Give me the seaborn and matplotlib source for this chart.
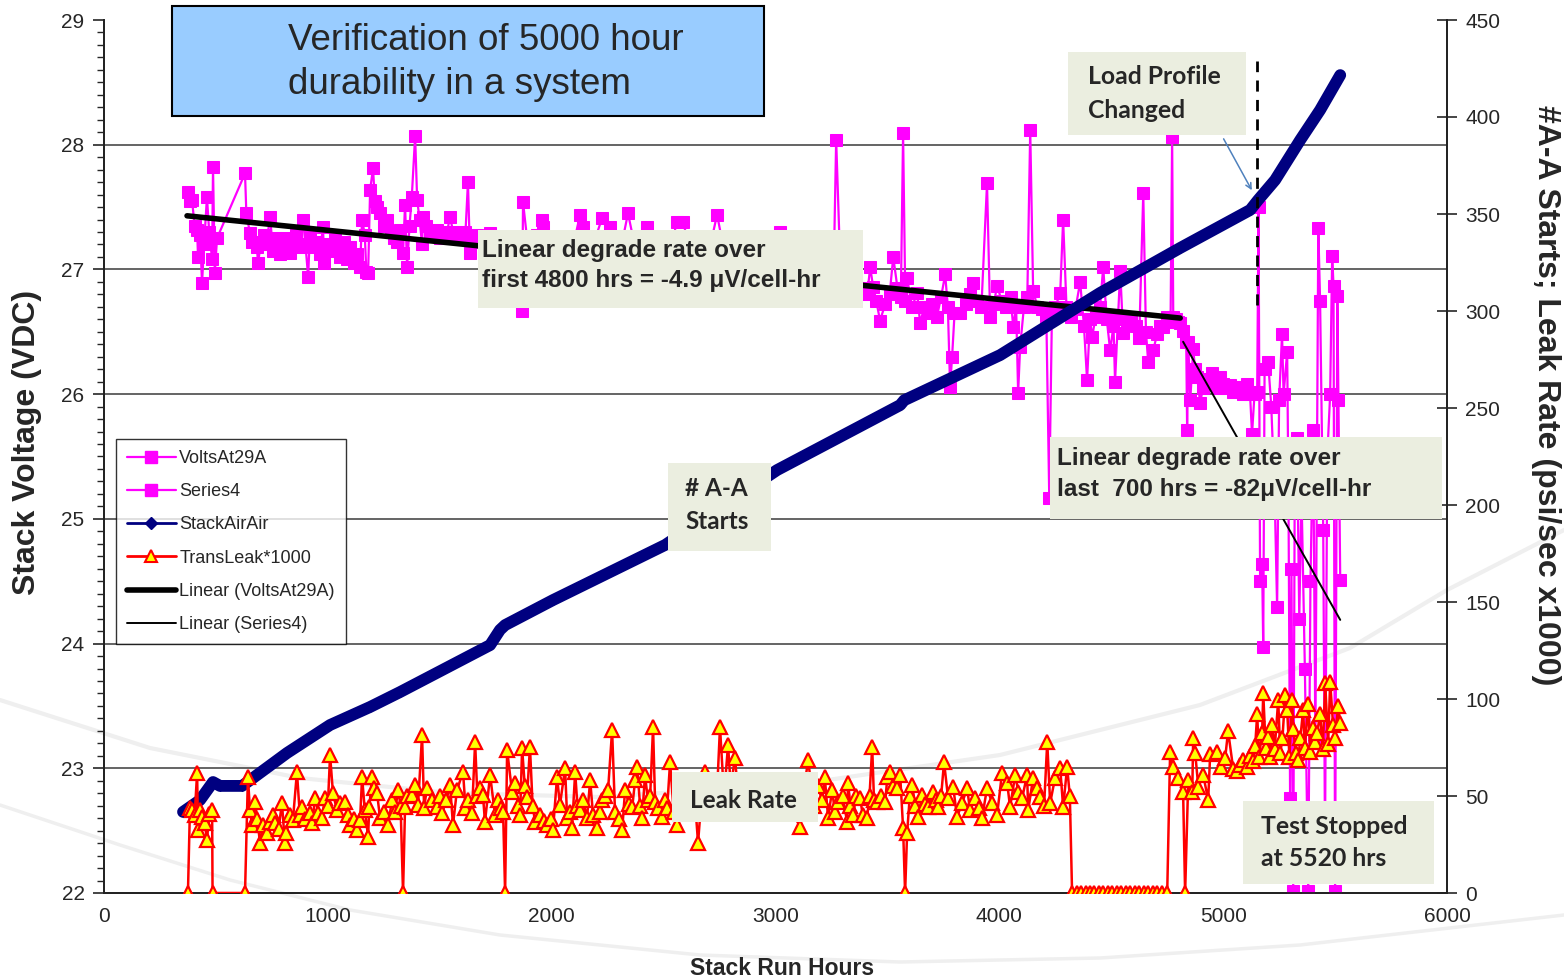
import matplotlib
matplotlib.use("Agg")
import matplotlib.pyplot as plt
from matplotlib.lines import Line2D
from matplotlib.patches import Rectangle
import numpy as np
import seaborn as sns

# ---------------- data ----------------
volts_hours = [375, 384, 393, 405, 416, 420, 429, 438, 447, 460, 470, 483, 487, 495, 505,
               630, 636, 652, 660, 683, 688, 700, 715, 728, 742, 755, 770, 785, 800, 815,
               831, 845, 860, 875, 889, 900, 912, 920, 935, 950, 964, 978, 985, 1000, 1015,
               1030, 1041, 1055, 1070, 1086, 1100, 1115, 1130, 1144, 1153, 1165, 1172, 1180,
               1189, 1202, 1210, 1220, 1235, 1250, 1265, 1280, 1295, 1310, 1323, 1336, 1345,
               1354, 1365, 1375, 1390, 1399, 1410, 1421, 1425, 1440, 1455, 1470, 1488, 1500,
               1515, 1530, 1546, 1560, 1575, 1590, 1604, 1615, 1626, 1635, 1650, 1665, 1680,
               1700, 1725, 1740, 1760, 1790, 1810, 1840, 1868, 1872, 1890, 1910, 1935, 1957,
               1962, 1985, 2010, 2040, 2070, 2100, 2127, 2140, 2165, 2195, 2225, 2261, 2290,
               2315, 2341, 2370, 2400, 2426, 2460, 2490, 2520, 2560, 2587, 2620, 2660, 2700,
               2739, 2770, 2800, 2840, 2880, 2920, 2960, 3000, 3021, 3060, 3100, 3140, 3180,
               3220, 3260, 3271, 3290, 3320, 3360, 3390, 3410, 3423, 3436, 3450, 3467, 3490,
               3510, 3526, 3545, 3560, 3570, 3580, 3588, 3610, 3633, 3646, 3665, 3680, 3700,
               3721, 3740, 3758, 3770, 3780, 3789, 3800, 3825, 3850, 3870, 3883, 3900, 3920,
               3945, 3959, 3975, 3990, 4010, 4030, 4050, 4062, 4075, 4084, 4093, 4110, 4125,
               4138, 4151, 4170, 4190, 4210, 4223, 4235, 4250, 4272, 4285, 4300, 4320, 4340,
               4361, 4378, 4392, 4405, 4415, 4430, 4450, 4464, 4480, 4495, 4510, 4517, 4530,
               4540, 4553, 4570, 4590, 4610, 4625, 4643, 4655, 4665, 4687, 4705, 4720, 4732,
               4750, 4765, 4772, 4777, 4790, 4800]
volts = [27.62, 27.55, 27.56, 27.35, 27.32, 27.10, 27.28, 26.89, 27.20, 27.58, 27.30, 27.08,
         27.82, 26.97, 27.25,
         27.77, 27.45, 27.29, 27.22, 27.18, 27.05, 27.20, 27.28, 27.24, 27.42, 27.15, 27.25,
         27.12, 27.18, 27.25, 27.13, 27.20, 27.28, 27.18, 27.40, 27.20, 26.94, 27.29, 27.18,
         27.22, 27.12, 27.34, 27.05, 27.20, 27.15, 27.25, 27.18, 27.10, 27.22, 27.08, 27.18,
         27.05, 27.12, 27.02, 27.40, 27.28, 26.98, 26.97,
         27.64, 27.81, 27.55, 27.50, 27.45, 27.35, 27.40, 27.30, 27.25, 27.22, 27.32, 27.13,
         27.52, 27.02, 27.35, 27.58, 28.07, 27.56, 27.40, 27.20, 27.42, 27.35, 27.30, 27.28,
         27.32, 27.25, 27.30, 27.28, 27.42, 27.30, 27.25, 27.28, 27.26, 27.30, 27.70, 27.13,
         27.25, 27.28, 27.22, 27.25, 27.29, 27.20, 27.15, 27.10, 27.18, 27.22, 26.67, 27.54,
         27.25, 27.20, 27.28, 27.40, 27.34, 27.15, 27.20, 27.25, 27.18, 27.22, 27.44, 27.34,
         27.20, 27.25, 27.41, 27.34, 27.18, 27.22, 27.45, 27.20, 27.15, 27.34, 27.20, 27.18,
         27.10, 27.38, 27.38, 27.15, 27.20, 27.12, 27.44, 27.15, 27.20, 27.10, 27.15, 27.05,
         27.10, 27.12, 27.30, 27.05, 27.00, 27.10, 26.95, 27.02, 26.98, 28.04, 27.00, 26.95,
         26.90, 26.85, 26.80, 27.02, 26.86, 26.75, 26.59, 26.72, 26.80, 27.10, 26.85, 26.78,
         28.09, 26.75, 26.93, 26.70, 26.81, 26.57, 26.70, 26.65, 26.72, 26.62, 26.78, 26.96,
         26.70, 26.06, 26.30, 26.65, 26.65, 26.72, 26.80, 26.89, 26.75, 26.70, 27.69, 26.62,
         26.72, 26.87, 26.75, 26.70, 26.78, 26.54, 26.70, 26.01, 26.38, 26.70, 26.78, 28.12,
         26.83, 26.70, 26.68, 26.62, 25.17, 26.65, 26.70, 26.81, 27.40, 26.70, 26.62, 26.68,
         26.90, 26.55, 26.11, 26.60, 26.46, 26.62, 26.70, 27.02, 26.60, 26.35, 26.55, 26.10,
         26.60, 26.99, 26.49, 26.58, 26.62, 26.55, 26.45, 27.61, 26.50, 26.26, 26.35, 26.48,
         26.55, 26.54, 26.62, 26.58, 28.06, 26.62, 26.60, 26.58]

s4_hours = [4808, 4821, 4835, 4839, 4844, 4853, 4866, 4875, 4884, 4897, 4910, 4925, 4940,
            4951, 4965, 4975, 4987, 5000, 5015, 5031, 5045, 5060, 5076, 5090, 5107, 5120,
            5129, 5140, 5152, 5158, 5165, 5174, 5179, 5185, 5201, 5215, 5230, 5241, 5250,
            5263, 5270, 5286, 5292, 5299, 5305, 5313, 5320, 5330, 5340, 5350, 5365, 5380,
            5390, 5402, 5412, 5425, 5433, 5447, 5455, 5465, 5478, 5487, 5493, 5500, 5510,
            5515, 5523]
s4_volts = [26.57, 26.51, 26.42, 25.71, 26.42, 25.95, 26.36, 26.20, 26.14, 25.93, 26.05,
            26.12, 26.08, 26.17, 26.10, 26.05, 26.14, 26.08, 26.05, 26.07, 26.02, 26.06,
            26.05, 26.00, 26.08, 26.00, 25.68, 26.00, 26.02, 27.50, 24.50, 24.64, 23.97,
            26.20, 26.26, 25.90, 25.20, 24.29, 25.95, 26.48, 26.00, 26.34, 25.10, 22.76,
            24.60, 22.02, 25.40, 25.65, 24.20, 25.20, 23.80, 22.02, 24.50, 25.71, 23.20,
            27.33, 26.75, 24.91, 22.40, 25.50, 26.00, 27.11, 26.87, 22.02, 26.79, 25.95,
            24.51]

starts_hours = [353, 429, 487, 518, 617, 666, 818, 1010, 1189, 1323, 1725, 1769, 1792, 2006,
                2507, 3007, 3557, 3575, 4004, 4450, 4808, 5121, 5156, 5232, 5344, 5433, 5523]
starts = [41.8, 47.9, 57.2, 55.2, 55.2, 59.3, 72.2, 86.6, 95.9, 103.6, 127.8, 135.6, 138.1,
          151.0, 179.4, 218.0, 251.5, 254.0, 277.3, 309.3, 332.5, 352.1, 357.2, 367.5,
          388.1, 403.6, 421.6]

leak_hours = [375, 384, 395, 405, 416, 420, 429, 438, 450, 460, 470, 483, 485, 630, 643, 652,
              661, 675, 685, 697, 710, 728, 740, 755, 764, 780, 795, 808, 815, 830, 844, 862,
              875, 885, 900, 920, 930, 943, 958, 974, 987, 1000, 1010, 1023, 1040, 1054, 1077,
              1090, 1099, 1115, 1131, 1144, 1153, 1165, 1180, 1185, 1198, 1205, 1220, 1233,
              1250, 1269, 1287, 1300, 1314, 1325, 1336, 1345, 1354, 1376, 1390, 1403, 1421,
              1430, 1443, 1466, 1488, 1500, 1510, 1530, 1546, 1559, 1577, 1604, 1615, 1626,
              1644, 1658, 1668, 1680, 1693, 1702, 1725, 1747, 1760, 1775, 1783, 1792, 1801,
              1823, 1836, 1850, 1859, 1868, 1880, 1890, 1903, 1915, 1926, 1948, 1965, 1979,
              1995, 2006, 2024, 2037, 2060, 2069, 2080, 2091, 2105, 2115, 2127, 2140, 2158,
              2172, 2185, 2203, 2215, 2225, 2240, 2252, 2270, 2283, 2300, 2315, 2328, 2345,
              2360, 2373, 2382, 2395, 2404, 2417, 2430, 2440, 2453, 2462, 2475, 2493, 2505,
              2516, 2529, 2545, 2560, 2580, 2600, 2620, 2640, 2654, 2670, 2685, 2700, 2720,
              2740, 2752, 2770, 2788, 2800, 2819, 2835, 2860, 2890, 2920, 2950, 2980, 3010,
              3040, 3070, 3110, 3125, 3146, 3170, 3190, 3208, 3220, 3235, 3253, 3265, 3280,
              3300, 3320, 3324, 3335, 3347, 3360, 3378, 3390, 3409, 3420, 3432, 3440, 3454,
              3470, 3490, 3500, 3512, 3525, 3543, 3557, 3570, 3579, 3588, 3600, 3610, 3625,
              3637, 3655, 3670, 3682, 3704, 3715, 3727, 3740, 3753, 3771, 3794, 3811, 3834,
              3856, 3869, 3892, 3910, 3923, 3945, 3968, 3990, 4012, 4035, 4048, 4071, 4085,
              4102, 4124, 4129, 4151, 4169, 4182, 4200, 4214, 4227, 4249, 4272, 4285, 4303,
              4315, 4325, 4345, 4365, 4385, 4405, 4425, 4445, 4465, 4485, 4505, 4525, 4545,
              4565, 4585, 4605, 4625, 4645, 4665, 4685, 4705, 4725, 4750, 4763, 4777, 4799,
              4821, 4830, 4844, 4862, 4866, 4875, 4889, 4911, 4933, 4942, 4973, 4990, 5009,
              5022, 5045, 5063, 5075, 5089, 5105, 5121, 5135, 5143, 5152, 5160, 5174, 5179,
              5190, 5201, 5210, 5219, 5230, 5246, 5255, 5265, 5277, 5286, 5296, 5308, 5313,
              5325, 5335, 5345, 5357, 5365, 5380, 5389, 5400, 5410, 5420, 5433, 5445, 5456,
              5469, 5478, 5491, 5500, 5514, 5523]
leak = [0, 43.8, 43.0, 40.0, 61.9, 32.5, 42.8, 39.2, 36.0, 27.3, 40.5, 42.8, 0, 0, 59.8, 42.8,
        35.1, 46.9, 38.0, 25.8, 35.0, 30.9, 36.5, 40.2, 36.1, 33.0, 46.4, 25.8, 30.9, 40.0,
        37.6, 62.4, 40.0, 44.3, 38.0, 41.2, 36.0, 49.0, 41.0, 38.7, 49.0, 45.0, 71.1, 51.5,
        43.0, 46.4, 46.9, 40.0, 35.1, 38.0, 32.5, 37.6, 59.8, 43.0, 28.9, 44.3, 59.8, 54.1,
        51.5, 38.7, 42.0, 35.1, 47.9, 42.0, 53.1, 45.0, 0, 44.3, 50.0, 50.5, 55.7, 45.4, 81.4,
        44.0, 54.1, 47.9, 44.3, 50.0, 41.2, 48.0, 55.7, 35.1, 53.1, 62.4, 44.0, 47.9, 41.2,
        77.8, 50.0, 54.1, 50.5, 36.6, 60.8, 40.2, 47.9, 44.0, 41.8, 0, 73.7, 52.1, 56.7, 45.0,
        40.2, 74.7, 55.0, 49.5, 75.3, 45.0, 36.6, 40.2, 37.0, 35.1, 38.0, 32.5, 59.8, 45.4,
        64.4, 38.7, 42.0, 33.5, 62.4, 45.0, 42.8, 48.0, 38.7, 58.2, 40.0, 33.5, 42.0, 47.9,
        50.0, 53.1, 84.0, 41.8, 38.0, 32.5, 53.1, 46.0, 44.3, 58.2, 64.9, 45.0, 38.7, 60.8,
        48.0, 50.0, 85.6, 46.9, 44.0, 39.2, 48.0, 43.8, 67.5, 42.0, 35.1, 45.0, 50.0, 42.0,
        48.0, 25.8, 50.0, 62.4, 45.0, 50.0, 55.0, 85.6, 50.0, 76.3, 55.0, 69.6, 48.0, 52.0,
        45.0, 50.0, 42.0, 48.0, 45.0, 50.0, 43.0, 34.0, 52.0, 68.6, 45.0, 55.0, 47.9, 60.0,
        38.7, 53.1, 42.0, 46.9, 50.0, 36.6, 56.7, 45.0, 40.2, 50.0, 49.0, 40.0, 38.7, 50.0,
        75.3, 48.0, 46.9, 50.0, 46.9, 60.0, 62.4, 55.0, 54.1, 60.8, 33.5, 0, 30.9, 50.0, 55.7,
        45.0, 39.2, 50.5, 46.0, 44.3, 52.1, 48.0, 44.3, 50.0, 67.5, 49.0, 54.6, 39.2, 46.4,
        54.1, 42.8, 49.0, 44.0, 38.7, 54.1, 46.4, 40.2, 61.9, 56.7, 44.3, 60.8, 52.0, 49.0,
        60.8, 42.8, 59.3, 54.1, 49.5, 45.0, 77.8, 46.4, 59.3, 64.4, 44.3, 64.9, 50.0, 0, 0,
        0, 0, 0, 0, 0, 0, 0, 0, 0, 0, 0, 0, 0, 0, 0, 0, 0, 0, 0, 0, 72.7, 64.9, 59.3, 52.1,
        0, 58.2, 52.0, 79.9, 72.2, 54.6, 60.8, 47.9, 71.6, 72.7, 65.0, 69.6, 83.5, 63.9, 62.9,
        66.0, 68.6, 65.0, 70.6, 68.0, 75.8, 92.3, 70.0, 82.5, 103.0, 75.0, 80.4, 70.0, 86.6,
        74.0, 99.5, 72.0, 80.0, 102.0, 94.3, 70.0, 99.5, 84.5, 72.0, 68.6, 80.0, 94.3, 75.0,
        97.4, 72.7, 85.0, 78.0, 82.5, 92.3, 74.0, 108.0, 76.8, 109.0, 86.6, 80.0, 96.4, 87.6]

# linear fits shown as "Linear (...)" in the legend
trend1_hours = [371, 4808]
trend1_volts = [27.43, 26.61]
trend2_hours = [4821, 5523]
trend2_volts = [26.42, 24.19]

profile_change_hour = 5152
profile_line_span = [303, 429]

x_ticks = [0, 1000, 2000, 3000, 4000, 5000, 6000]
left_ticks = [22, 23, 24, 25, 26, 27, 28, 29]
right_ticks = [0, 50, 100, 150, 200, 250, 300, 350, 400, 450]

# ---------------- style ----------------
sns.set_style("white")
plt.rcParams["font.family"] = ["Liberation Sans", "DejaVu Sans"]

W, H = 1564, 980
fig = plt.figure(figsize=(W / 100, H / 100), dpi=100)
fig.patch.set_facecolor("white")

# faint background swooshes
def swoosh(xs, ys, lw=3, color="#efefef"):
    fig.add_artist(Line2D(np.array(xs) / W, 1 - np.array(ys) / H, transform=fig.transFigure,
                          color=color, lw=lw, zorder=-5, solid_capstyle="round"))

swoosh([0, 150, 300, 450, 600, 800, 1000, 1200, 1350, 1447, 1564],
       [700, 748, 778, 793, 797, 784, 755, 705, 648, 590, 530])
swoosh([0, 120, 230, 350, 500, 700, 900, 1100, 1300, 1564],
       [805, 845, 880, 910, 935, 955, 962, 958, 945, 915], lw=2.5)

ax = fig.add_axes([104 / W, 1 - 893 / H, 1343 / W, 873 / H])
ax.patch.set_alpha(0)
ax2 = ax.twinx()
ax2.patch.set_alpha(0)

MAG = "#FF00FF"
NAVY = "#000080"
RED = "#FF0000"
YEL = "#FFFF00"

sns.lineplot(x=volts_hours, y=volts, ax=ax, color=MAG, lw=1.6, marker="s", markersize=9,
             markeredgecolor=MAG, sort=False, estimator=None, legend=False, zorder=3)
sns.lineplot(x=s4_hours, y=s4_volts, ax=ax, color=MAG, lw=1.6, marker="s", markersize=9,
             markeredgecolor=MAG, sort=False, estimator=None, legend=False, zorder=3)
sns.lineplot(x=trend1_hours, y=trend1_volts, ax=ax, color="black", lw=4, sort=False,
             estimator=None, legend=False, zorder=4)
sns.lineplot(x=trend2_hours, y=trend2_volts, ax=ax, color="black", lw=1.4, sort=False,
             estimator=None, legend=False, zorder=4)

sns.lineplot(x=starts_hours, y=starts, ax=ax2, color=NAVY, lw=8.5, marker="D", markersize=5,
             markeredgecolor=NAVY, sort=False, estimator=None, legend=False, zorder=3)
sns.lineplot(x=leak_hours, y=leak, ax=ax2, color=RED, lw=1.8, marker="^", markersize=10,
             markerfacecolor=YEL, markeredgecolor=RED, markeredgewidth=1.6,
             sort=False, estimator=None, legend=False, zorder=4)

ax2.plot([profile_change_hour, profile_change_hour], profile_line_span, color="black",
         lw=2, ls=(0, (4, 3)), zorder=5)

# axes, ticks, grid
ax.set_xlim(0, 6000)
ax.set_ylim(22, 29)
ax2.set_ylim(0, 450)
ax.set_xticks(x_ticks)
ax.set_yticks(left_ticks)
ax2.set_yticks(right_ticks)
ax.set_yticks(np.arange(22, 29.01, 0.1), minor=True)
for y in left_ticks[1:-1]:
    ax.axhline(y, color="#3a3a3a", lw=1.1, zorder=1)

for a in (ax, ax2):
    a.spines["top"].set_visible(False)
    for s in ("left", "right", "bottom"):
        a.spines[s].set_color("#222222")
        a.spines[s].set_linewidth(1.3)
    a.set_xlabel("")
    a.set_ylabel("")

ax.tick_params(axis="x", direction="inout", length=12, width=1.2, labelsize=15, pad=4)
ax.tick_params(axis="y", which="major", direction="out", length=8, width=1.2, labelsize=15,
               pad=6, left=True)
ax.tick_params(axis="y", which="minor", direction="out", length=5, width=1, left=True)
ax2.tick_params(axis="y", direction="inout", length=14, width=1.2, labelsize=15, pad=6,
                right=True)

fig.text(27 / W, 1 - 442 / H, "Stack Voltage (VDC)", rotation=90, ha="center", va="center",
         fontsize=23, fontweight="bold")
fig.text(1546 / W, 1 - 395 / H, "#A-A Starts; Leak Rate (psi/sec x1000)", rotation=270,
         ha="center", va="center", fontsize=23, fontweight="bold")
fig.text(782 / W, 1 - 968 / H, "Stack Run Hours", ha="center", va="center", fontsize=16.5,
         fontweight="bold")

# legend
handles = [
    Line2D([], [], color=MAG, lw=1.6, marker="s", markersize=8, markeredgecolor=MAG),
    Line2D([], [], color=MAG, lw=1.6, marker="s", markersize=8, markeredgecolor=MAG),
    Line2D([], [], color=NAVY, lw=2, marker="D", markersize=6, markeredgecolor=NAVY),
    Line2D([], [], color=RED, lw=2, marker="^", markersize=8, markerfacecolor=YEL,
           markeredgecolor=RED, markeredgewidth=1.5),
    Line2D([], [], color="black", lw=4),
    Line2D([], [], color="black", lw=1.4),
]
labels = ["VoltsAt29A", "Series4", "StackAirAir", "TransLeak*1000", "Linear (VoltsAt29A)",
          "Linear (Series4)"]
leg = ax2.legend(handles, labels, loc="upper left",
                 bbox_to_anchor=(116 / W, 1 - 439 / H), bbox_transform=fig.transFigure,
                 borderaxespad=0, fontsize=13, frameon=True, fancybox=False,
                 edgecolor="black", handlelength=2.7, labelspacing=0.9, handletextpad=0.2,
                 borderpad=0.6)
leg.get_frame().set_linewidth(1.0)
leg.set_zorder(20)

# callout boxes
def box(x0, y0, x1, y1, fc, ec="none", lw=0):
    fig.add_artist(Rectangle((x0 / W, 1 - y1 / H), (x1 - x0) / W, (y1 - y0) / H,
                             transform=fig.transFigure, facecolor=fc, edgecolor=ec, lw=lw,
                             zorder=10))

def label(x, y, s, size, family, weight="bold"):
    fig.text(x / W, 1 - y / H, s, ha="left", va="center", fontsize=size, family=family,
             fontweight=weight, zorder=11)

GREEN = "#EBEEE0"
ARIAL = ["Liberation Sans", "DejaVu Sans"]
CAL = ["Lato", "DejaVu Sans"]

box(172, 6, 764, 116, "#99CCFF", ec="black", lw=1.5)
label(288, 40, "Verification of 5000 hour", 26.5, ARIAL, "normal")
label(288, 85, "durability in a system", 26.5, ARIAL, "normal")

box(1068, 52, 1246, 135, GREEN)
label(1088, 77, "Load Profile", 17.8, CAL)
label(1088, 110, "Changed", 17.8, CAL)

box(478, 230, 863, 308, GREEN)
label(482, 250, "Linear degrade rate over", 17.5, ARIAL)
label(482, 280, "first 4800 hrs = -4.9 μV/cell-hr", 17.5, ARIAL)

box(668, 463, 771, 551, GREEN)
label(685, 488, "# A-A", 17.5, CAL)
label(685, 521, "Starts", 17.5, CAL)

box(1050, 437, 1442, 519, GREEN)
label(1057, 458, "Linear degrade rate over", 17.5, ARIAL)
label(1057, 489, "last  700 hrs = -82μV/cell-hr", 17.5, ARIAL)

box(672, 772, 818, 822, GREEN)
label(690, 800, "Leak Rate", 17.5, CAL)

box(1243, 801, 1434, 884, GREEN)
label(1261, 826, "Test Stopped", 17.8, CAL)
label(1261, 859, "at 5520 hrs", 17.8, CAL)

ax2.annotate("", xy=(5134, 361), xytext=(4996, 390),
             arrowprops=dict(arrowstyle="->", color="#4F81BD", lw=1.1), zorder=12)

fig.savefig("out.png", dpi=100)
